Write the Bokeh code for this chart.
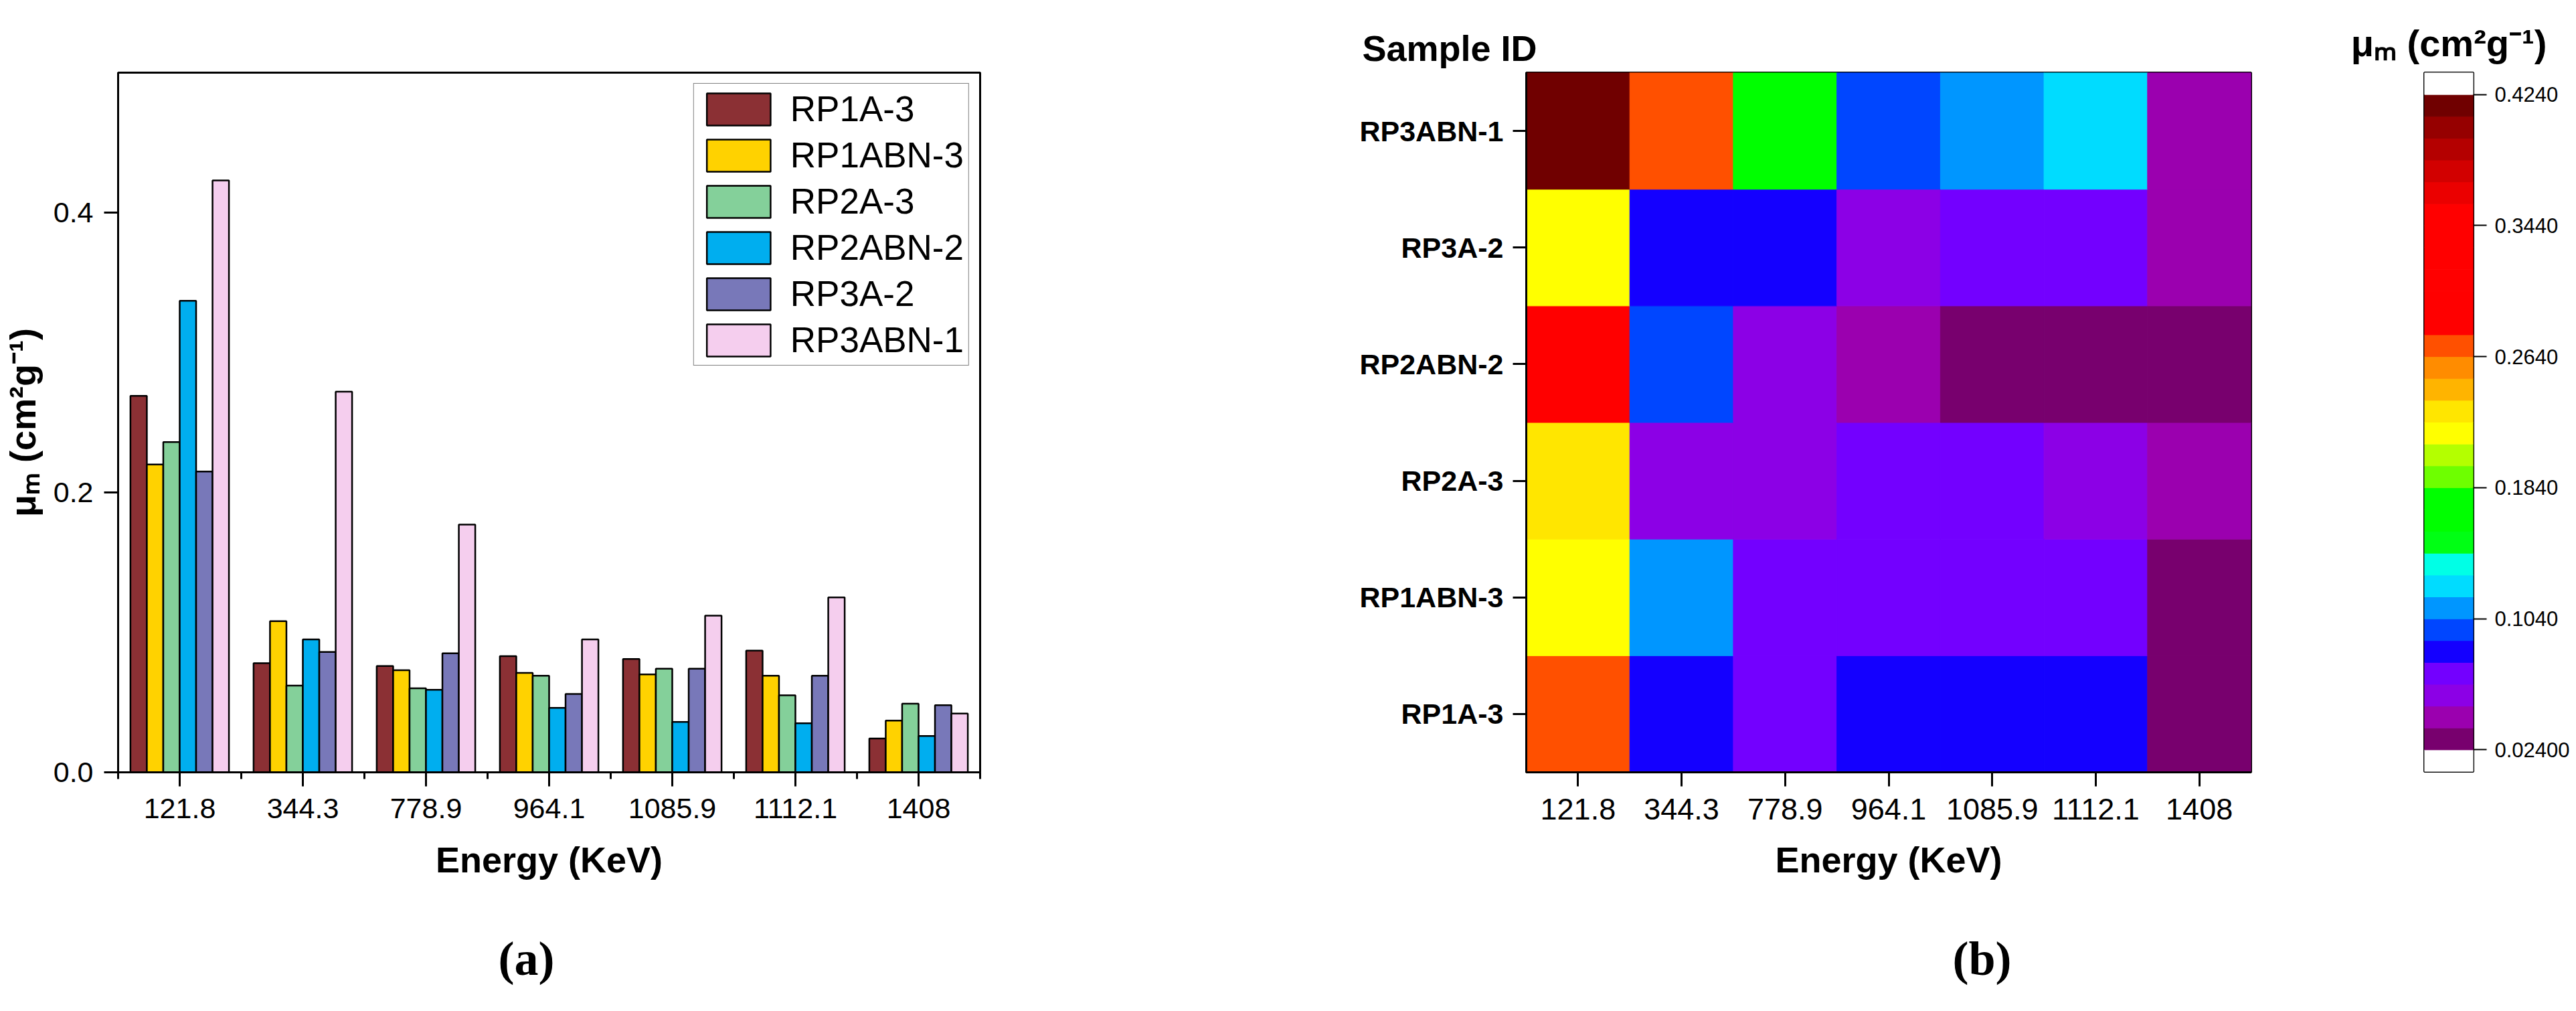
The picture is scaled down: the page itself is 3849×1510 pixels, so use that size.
import numpy as np
from bokeh.plotting import figure
from bokeh.layouts import row
from bokeh.models import (ColumnDataSource, Range1d, FactorRange, FixedTicker,
                          NumeralTickFormatter, Title, LinearColorMapper)
from bokeh.transform import transform
from bokeh.embed import file_html
from bokeh.resources import INLINE

# data
energies = ["121.8", "344.3", "778.9", "964.1", "1085.9", "1112.1", "1408"]
samples = ["RP1A-3", "RP1ABN-3", "RP2A-3", "RP2ABN-2", "RP3A-2", "RP3ABN-1"]

rp1a_3 = [0.269, 0.078, 0.076, 0.083, 0.081, 0.087, 0.0242]
rp1abn_3 = [0.220, 0.108, 0.073, 0.071, 0.070, 0.069, 0.037]
rp2a_3 = [0.236, 0.062, 0.060, 0.069, 0.074, 0.055, 0.049]
rp2abn_2 = [0.337, 0.095, 0.059, 0.046, 0.036, 0.035, 0.026]
rp3a_2 = [0.215, 0.086, 0.085, 0.056, 0.074, 0.069, 0.048]
rp3abn_1 = [0.423, 0.272, 0.177, 0.095, 0.112, 0.125, 0.042]
series = [rp1a_3, rp1abn_3, rp2a_3, rp2abn_2, rp3a_2, rp3abn_1]

bar_colors = ["#8B3034", "#FFD200", "#84D09A", "#00AEEF", "#7878B9", "#F5CEEE"]

y_ticks = [0.0, 0.2, 0.4]

# colour map (bottom to top)
palette = ["#78006E", "#9B00AF", "#8C00E6", "#7300FF", "#1400FF", "#0046FF",
           "#0096FF", "#00DCFF", "#00FFE6", "#00FF14", "#00FF00", "#00FF00",
           "#6EFF00", "#B4FF00", "#FFFF00", "#FFE600", "#FFB400", "#FF8C00",
           "#FF5000", "#FF0000", "#FF0000", "#FF0000", "#FF0000", "#FF0000",
           "#FF0000", "#EB0000", "#D20000", "#B40000", "#960000", "#700000"]
cb_low, cb_high = 0.024, 0.424
cb_ticks = [0.024, 0.104, 0.184, 0.264, 0.344, 0.424]
cb_tick_labels = ["0.02400", "0.1040", "0.1840", "0.2640", "0.3440", "0.4240"]

FONT = "Liberation Sans"
unit_label = "\u03bc\u2098 (cm\u00b2g\u207b\u00b9)"


def style_axis(ax, label_size="43px"):
    ax.axis_line_width = 3
    ax.major_tick_line_width = 3
    ax.minor_tick_line_width = 3
    ax.major_tick_in = 0
    ax.minor_tick_in = 0
    ax.major_label_text_font = FONT
    ax.major_label_text_font_size = label_size
    ax.major_label_text_color = "black"
    ax.axis_label_text_font = FONT
    ax.axis_label_text_font_size = "54px"
    ax.axis_label_text_font_style = "bold"
    ax.axis_label_text_color = "black"


# ---------------- (a) grouped bars ----------------
p1 = figure(x_range=Range1d(0, len(energies)), y_range=Range1d(0, 0.5),
            frame_width=1288, frame_height=1045,
            min_border_left=176, min_border_top=108,
            min_border_right=386, min_border_bottom=341,
            output_backend="svg", toolbar_location=None)
p1.grid.visible = False
p1.outline_line_color = "black"
p1.outline_line_width = 3

idx = np.arange(len(energies)) + 0.5
bw = 0.8 / len(series)
for j, (vals, col, name) in enumerate(zip(series, bar_colors, samples)):
    xs = idx + (j - (len(series) - 1) / 2) * bw
    p1.vbar(x=xs, top=vals, width=bw, fill_color=col, line_color="black",
            line_width=2.5, legend_label=name)

xa = p1.xaxis[0]
xa.ticker = FixedTicker(ticks=list(idx), minor_ticks=list(range(len(energies) + 1)))
xa.major_label_overrides = {float(t): e for t, e in zip(idx, energies)}
xa.axis_label = "Energy (KeV)"
style_axis(xa)
xa.major_tick_out = 21
xa.minor_tick_out = 10
xa.major_label_standoff = 18
xa.axis_label_standoff = 29

ya = p1.yaxis[0]
ya.ticker = FixedTicker(ticks=y_ticks, minor_ticks=[])
ya.formatter = NumeralTickFormatter(format="0.0")
ya.axis_label = unit_label
style_axis(ya)
ya.major_tick_out = 21
ya.major_label_standoff = 16
ya.axis_label_standoff = 13

lg = p1.legend[0]
lg.location = "top_right"
lg.margin = 16
lg.padding = 7
lg.spacing = 8
lg.glyph_width = 119
lg.glyph_height = 60
lg.label_height = 60
lg.label_standoff = 18
lg.label_text_font = FONT
lg.label_text_font_size = "53px"
lg.label_text_color = "black"
lg.border_line_color = "black"
lg.border_line_width = 1.5
lg.background_fill_alpha = 1

p1.add_layout(Title(text="(a)", align="left", offset=568, standoff=146,
                    text_font="Liberation Serif", text_font_size="72px",
                    text_font_style="bold", text_color="black"), "below")

# ---------------- (b) heat map ----------------
mapper = LinearColorMapper(palette=palette, low=cb_low, high=cb_high,
                           low_color="white", high_color="white")

hx, hy, hv = [], [], []
for name, vals in zip(samples, series):
    for e, v in zip(energies, vals):
        hx.append(e)
        hy.append(name)
        hv.append(v)
hsrc = ColumnDataSource(dict(energy=hx, sample=hy, val=hv))

p2 = figure(x_range=FactorRange(*energies), y_range=FactorRange(*samples),
            frame_width=1083, frame_height=1045,
            min_border_left=430, min_border_top=103,
            min_border_right=87, min_border_bottom=343,
            output_backend="svg", toolbar_location=None)
p2.grid.visible = False
p2.outline_line_color = "black"
p2.outline_line_width = 3
p2.rect(x="energy", y="sample", width=1, height=1, source=hsrc,
        fill_color=transform("val", mapper), line_color=transform("val", mapper),
        line_width=1)

hxa = p2.xaxis[0]
hxa.axis_label = "Energy (KeV)"
style_axis(hxa, "45px")
hxa.major_tick_out = 21
hxa.major_label_standoff = 18
hxa.axis_label_standoff = 27

hya = p2.yaxis[0]
style_axis(hya, "43px")
hya.major_label_text_font_style = "bold"
hya.major_tick_out = 20
hya.major_label_standoff = 14

p2.add_layout(Title(text="Sample ID", align="left", offset=-245, standoff=14,
                    text_font=FONT, text_font_size="54px",
                    text_font_style="bold", text_color="black"), "above")
p2.add_layout(Title(text="(b)", align="left", offset=637, standoff=146,
                    text_font="Liberation Serif", text_font_size="72px",
                    text_font_style="bold", text_color="black"), "below")

# ---------------- colour scale ----------------
step = (cb_high - cb_low) / len(palette)
band_colors = ["white"] + palette + ["white"]
edges = np.linspace(cb_low - step, cb_high + step, len(band_colors) + 1)

p3 = figure(x_range=Range1d(0, 1), y_range=Range1d(edges[0], edges[-1]),
            frame_width=73, frame_height=1044,
            min_border_left=172, min_border_top=104,
            min_border_right=138, min_border_bottom=344,
            x_axis_location=None, y_axis_location="right",
            output_backend="svg", toolbar_location=None)
p3.grid.visible = False
p3.outline_line_color = "black"
p3.outline_line_width = 3
p3.quad(left=0, right=1, bottom=edges[:-1], top=edges[1:],
        fill_color=band_colors, line_color=band_colors, line_width=1)

ca = p3.yaxis[0]
ca.ticker = FixedTicker(ticks=cb_ticks, minor_ticks=[])
ca.major_label_overrides = dict(zip(cb_ticks, cb_tick_labels))
style_axis(ca, "31px")
ca.axis_line_color = None
ca.major_tick_out = 20
ca.major_tick_line_width = 2
ca.major_label_standoff = 12

p3.add_layout(Title(text=unit_label, align="center", standoff=26,
                    text_font=FONT, text_font_size="56px",
                    text_font_style="bold", text_color="black"), "above")

layout = row(p1, p2, p3)
open("out.html", "w").write(file_html(layout, INLINE))
